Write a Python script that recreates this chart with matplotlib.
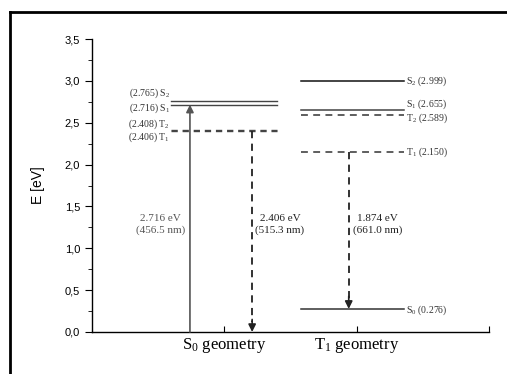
import matplotlib
matplotlib.use("Agg")
import matplotlib.pyplot as plt
from matplotlib.lines import Line2D
from matplotlib.ticker import FuncFormatter, MultipleLocator

plt.rcParams['mathtext.fontset'] = 'custom'
plt.rcParams['mathtext.rm'] = 'Liberation Serif'
plt.rcParams['mathtext.it'] = 'Liberation Serif'

# S0 geometry levels
s0_names = ["S$_2$", "S$_1$", "T$_2$", "T$_1$"]
s0_energy = [2.765, 2.716, 2.408, 2.406]
s0_style = ["-", "-", "--", "--"]
s0_label_y = [2.855, 2.675, 2.485, 2.325]

# T1 geometry levels
t1_names = ["S$_2$", "S$_1$", "T$_2$", "T$_1$", "S$_0$"]
t1_energy = [2.999, 2.655, 2.589, 2.150, 0.276]
t1_style = ["-", "-", "--", "--", "-"]
t1_color = ["#111111", "#444444", "#333333", "#333333", "#333333"]
t1_label_y = [3.0, 2.715, 2.555, 2.15, 0.26]

# transitions
tr_x = [0.74, 1.21, 1.94]
tr_from = [0.0, 2.406, 2.150]
tr_to = [2.716, 0.0, 0.276]
tr_text = ["2.716 eV\n(456.5 nm)", "2.406 eV\n(515.3 nm)", "1.874 eV\n(661.0 nm)"]
tr_text_x = [0.52, 1.42, 2.16]
tr_color = ["#555555", "#222222", "#222222"]

xtick_pos = [1, 2, 3]
xtick_lab = ["S$_0$ geometry", "T$_1$ geometry", ""]

fig = plt.figure(figsize=(5.07, 3.74), dpi=100)
ax = fig.add_axes([0.1815, 0.1123, 0.783, 0.7834])

serif = "Liberation Serif"
dash = (0, (4.5, 3.5))

for e, ls, nm, ly in zip(s0_energy, s0_style, s0_names, s0_label_y):
    ax.plot([0.6, 1.4], [e, e], color="#444444", lw=1.0,
            linestyle=dash if ls == "--" else "-")
    ax.text(0.59, ly, "(%.3f) %s" % (e, nm), ha="right", va="center",
            fontsize=7, family=serif, color="#333333")

for e, ls, c, nm, ly in zip(t1_energy, t1_style, t1_color, t1_names, t1_label_y):
    ax.plot([1.58, 2.36], [e, e], color=c, lw=1.1,
            linestyle=dash if ls == "--" else "-")
    ax.text(2.37, ly, "%s (%.3f)" % (nm, e), ha="left", va="center",
            fontsize=7, family=serif, color="#333333")

for x, y0, y1, txt, tx, c in zip(tr_x, tr_from, tr_to, tr_text, tr_text_x, tr_color):
    if y1 > y0:
        ax.annotate("", xy=(x, y1), xytext=(x, y0),
                    arrowprops=dict(arrowstyle="-|>", color="#555555", lw=1.2,
                                    mutation_scale=11, shrinkA=0, shrinkB=0))
    else:
        ax.plot([x, x], [y0, y1 + 0.12], color="#222222", lw=1.3,
                linestyle=(0, (4, 3)))
        ax.annotate("", xy=(x, y1), xytext=(x, y1 + 0.15),
                    arrowprops=dict(arrowstyle="-|>", color="#222222", lw=1.2,
                                    mutation_scale=11, shrinkA=0, shrinkB=0))
    ax.text(tx, 1.28, txt, ha="center", va="center", fontsize=8,
            family=serif, color=c, linespacing=1.3)

ax.set_xlim(0, 3)
ax.set_ylim(0, 3.5)
ax.spines['top'].set_visible(False)
ax.spines['right'].set_visible(False)
for s in ['left', 'bottom']:
    ax.spines[s].set_linewidth(1.0)

ax.set_xticks(xtick_pos)
ax.set_xticklabels(xtick_lab, family=serif, fontsize=12)
ax.tick_params(axis='x', direction='in', length=4, pad=3)
ax.yaxis.set_major_locator(MultipleLocator(0.5))
ax.yaxis.set_minor_locator(MultipleLocator(0.25))
ax.yaxis.set_major_formatter(FuncFormatter(lambda v, p: ("%.1f" % v).replace(".", ",")))
ax.tick_params(axis='y', which='major', direction='out', length=5, labelsize=8)
ax.tick_params(axis='y', which='minor', direction='out', length=3)
for t in ax.get_yticklabels():
    t.set_family("Liberation Sans")
ax.set_ylabel("E [eV]", family="Liberation Sans", fontsize=10, labelpad=14)

# frame around figure (top and left edges)
fig.add_artist(Line2D([10 / 507, 1], [1 - 12 / 374, 1 - 12 / 374], color="black", lw=2))
fig.add_artist(Line2D([10 / 507, 10 / 507], [0, 1 - 12 / 374], color="black", lw=2))

fig.savefig("out.png", dpi=100)
